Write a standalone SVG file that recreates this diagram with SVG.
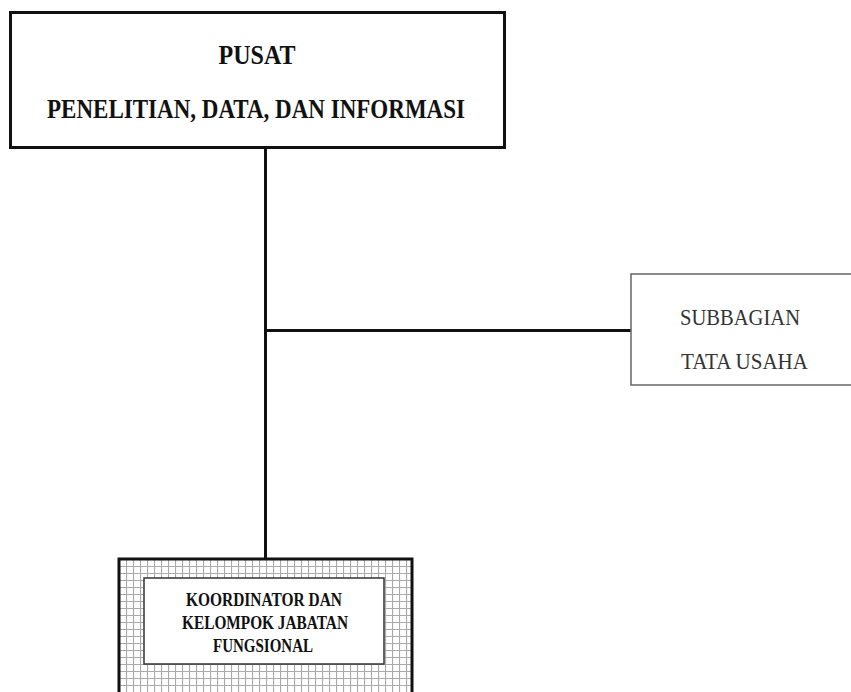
<svg xmlns="http://www.w3.org/2000/svg" width="851" height="692" viewBox="0 0 851 692">
<style>
.bold{font-family:"Liberation Serif","DejaVu Serif",serif;font-weight:bold;fill:#111;text-anchor:middle}
.reg{font-family:"Liberation Serif","DejaVu Serif",serif;fill:#333;text-anchor:middle}
.conn{stroke:#111;stroke-width:3;fill:none}
</style>
<defs>
<pattern id="grid" x="119" y="559" width="7" height="7" patternUnits="userSpaceOnUse">
<rect width="7" height="7" fill="#fff"/>
<path d="M0 0.5H7M0.5 0V7" stroke="#aaa" stroke-width="1.2"/>
</pattern>
</defs>
<rect width="851" height="692" fill="#fff"/>
<g id="connectors">
<line class="conn" x1="265.5" y1="148" x2="265.5" y2="559"/>
<line class="conn" x1="265.5" y1="330.5" x2="631" y2="330.5"/>
</g>
<g id="pusat">
<rect x="10.5" y="12.5" width="494" height="135" fill="#fff" stroke="#111" stroke-width="3"/>
<text class="bold" x="257" y="64" font-size="27" textLength="77" lengthAdjust="spacingAndGlyphs">PUSAT</text>
<text class="bold" x="256" y="118" font-size="27" textLength="418" lengthAdjust="spacingAndGlyphs">PENELITIAN, DATA, DAN INFORMASI</text>
</g>
<g id="subbagian">
<rect x="631" y="274" width="222" height="111" fill="#fff" stroke="#666" stroke-width="1.5"/>
<text class="reg" x="740" y="325" font-size="23" textLength="120" lengthAdjust="spacingAndGlyphs">SUBBAGIAN</text>
<text class="reg" x="744.5" y="369" font-size="23" textLength="127" lengthAdjust="spacingAndGlyphs">TATA USAHA</text>
</g>
<g id="koordinator">
<rect x="119" y="559" width="293" height="140" fill="url(#grid)" stroke="#111" stroke-width="3"/>
<rect x="144" y="578" width="240" height="86" fill="#fff" stroke="#333" stroke-width="1.5"/>
<text class="bold" x="264" y="606" font-size="18" textLength="156" lengthAdjust="spacingAndGlyphs">KOORDINATOR DAN</text>
<text class="bold" x="265" y="629" font-size="18" textLength="166" lengthAdjust="spacingAndGlyphs">KELOMPOK JABATAN</text>
<text class="bold" x="263" y="652" font-size="18" textLength="100" lengthAdjust="spacingAndGlyphs">FUNGSIONAL</text>
</g>
</svg>
